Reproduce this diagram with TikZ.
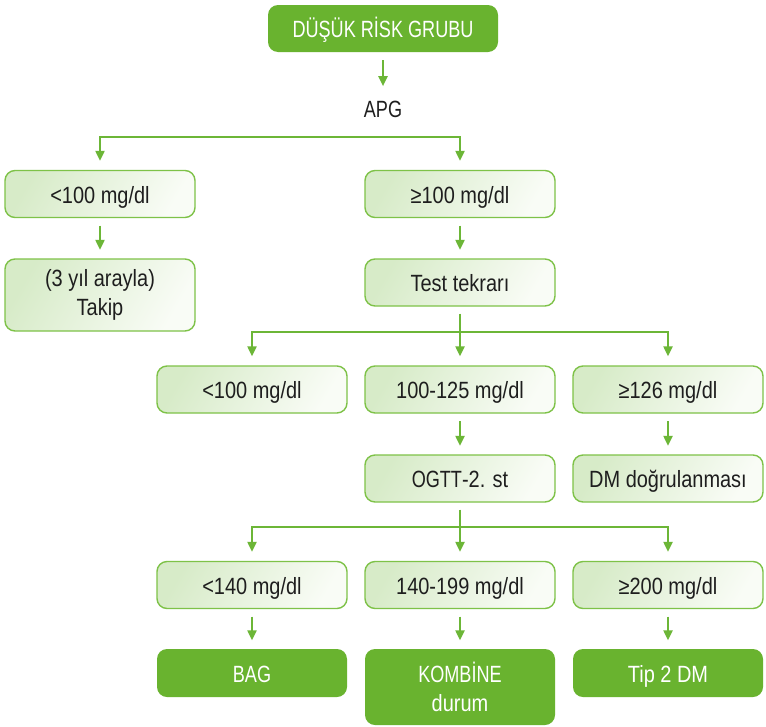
\documentclass[tikz,border=0pt]{standalone}
\usepackage{fontspec}
\setmainfont[FakeStretch=0.85]{Liberation Sans}
\newfontfamily\capsfont[FakeStretch=0.77]{Liberation Sans}
\usetikzlibrary{arrows.meta}

\definecolor{darkgreen}{RGB}{105,179,47}
\definecolor{linegreen}{RGB}{108,182,55}
\definecolor{boxline}{RGB}{126,194,72}
\definecolor{boxleft}{RGB}{215,235,200}
\definecolor{boxright}{RGB}{249,252,246}
\definecolor{txt}{RGB}{30,30,30}

\tikzset{
  x=1pt, y=1pt,
  oneline/.style={text height=18pt, text depth=0pt},
  twolines/.style={text height={}, text depth={}},
  lightbox/.style={draw=boxline, line width=1.4pt, rounded corners=10pt,
    left color=boxleft, right color=boxright, shading angle=60,
    minimum width=190pt, minimum height=47pt, inner sep=2pt, align=center,
    text=txt, font=\fontsize{23.5}{29.5}\selectfont, oneline},
  darkbox/.style={fill=darkgreen, rounded corners=10pt,
    minimum width=190pt, minimum height=48pt, inner sep=2pt, align=center,
    text=white, font=\fontsize{23.5}{29.5}\selectfont, oneline},
  tip/.tip={Triangle[length=10pt,width=9pt]},
  link/.style={draw=linegreen, line width=2.2pt},
  arr/.style={link, -tip},
  fork/.style={link, tip-tip},
  gap/.style={shorten <=7.5pt, shorten >=8.5pt},
}

\begin{document}
\begin{tikzpicture}
  \useasboundingbox (0,0) rectangle (766,-726);
  \fill[white] (0,0) rectangle (766,-726);

  % top of the chart
  \node[darkbox, minimum width=230pt, minimum height=47pt] (top) at (383,-28.5) {\capsfont DÜŞÜK RİSK GRUBU};
  \node[text=txt, font=\fontsize{23.5}{27}\capsfont, inner sep=2pt] (apg) at (383,-109) {APG};

  % first split
  \node[lightbox] (a1) at (100,-194) {<100 mg/dl};
  \node[lightbox] (a2) at (460,-194) {≥100 mg/dl};
  \node[lightbox, twolines, minimum height=72pt] (b1) at (100,-295) {(3 yıl arayla)\\Takip};
  \node[lightbox] (b2) at (460,-282.5) {Test tekrarı};

  % second split
  \node[lightbox] (c1) at (252,-389.5) {<100 mg/dl};
  \node[lightbox] (c2) at (460,-389.5) {100-125 mg/dl};
  \node[lightbox] (c3) at (668,-389.5) {≥126 mg/dl};
  \node[lightbox] (d2) at (460,-478.5) {\capsfont OGTT\normalfont-2. st};
  \node[lightbox] (d3) at (668,-478.5) {DM doğrulanması};

  % third split
  \node[lightbox] (e1) at (252,-585) {<140 mg/dl};
  \node[lightbox] (e2) at (460,-585) {140-199 mg/dl};
  \node[lightbox] (e3) at (668,-585) {≥200 mg/dl};
  \node[darkbox] (f1) at (252,-673) {\capsfont BAG};
  \node[darkbox, twolines, minimum height=76pt] (f2) at (460,-687) {{\capsfont KOMBİNE}\\durum};
  \node[darkbox] (f3) at (668,-673) {Tip 2 DM};

  % junction levels of the forks
  \coordinate (j1) at (383,-137);
  \coordinate (j2) at (460,-332);
  \coordinate (j3) at (460,-527);

  % connectors
  \draw[arr] ([yshift=-8pt]top.south) -- ([yshift=-34pt]top.south);
  \draw[fork] ([yshift=9pt]a1.north) |- (a2.north |- j1) -- ([yshift=9pt]a2.north);

  \draw[arr, gap] (a1) -- (b1);
  \draw[arr, gap] (a2) -- (b2);

  \draw[fork] ([yshift=9pt]c1.north) |- (c3.north |- j2) -- ([yshift=9pt]c3.north);
  \draw[arr] ([yshift=-7pt]b2.south) -- ([yshift=9pt]c2.north);

  \draw[arr, gap] (c2) -- (d2);
  \draw[arr, gap] (c3) -- (d3);

  \draw[fork] ([yshift=9pt]e1.north) |- (e3.north |- j3) -- ([yshift=9pt]e3.north);
  \draw[arr] ([yshift=-7pt]d2.south) -- ([yshift=9pt]e2.north);

  \draw[arr, gap] (e1) -- (f1);
  \draw[arr, gap] (e2) -- (f2.north);
  \draw[arr, gap] (e3) -- (f3);
\end{tikzpicture}
\end{document}
